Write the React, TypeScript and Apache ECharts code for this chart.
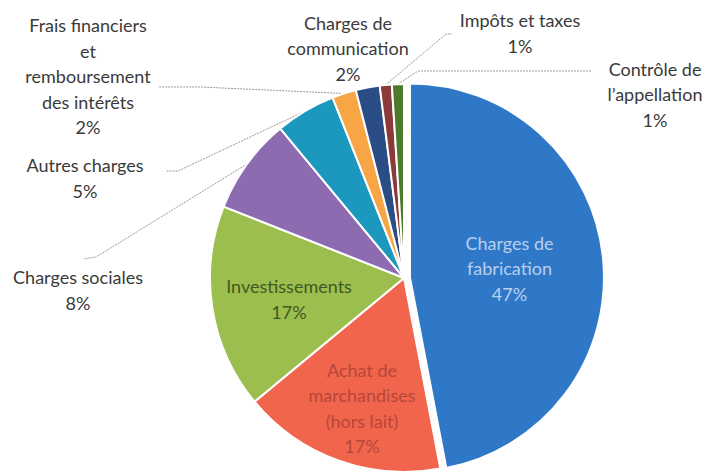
import React, { useEffect, useRef } from "react";
import * as echarts from "echarts";

const categories = [
  "Charges de\nfabrication",
  "Achat de\nmarchandises\n(hors lait)",
  "Investissements",
  "Charges sociales",
  "Autres charges",
  "Frais financiers\net\nremboursement\ndes intérêts",
  "Charges de\ncommunication",
  "Impôts et taxes",
  "Contrôle de\nl’appellation",
];
const values = [47, 17, 17, 8, 5, 2, 2, 1, 1];
const percentLabels = ["47%", "17%", "17%", "8%", "5%", "2%", "2%", "1%", "1%"];

const colors = ["#2F78C8", "#F0654C", "#9CBE4F", "#8C6BB1", "#1C98BF", "#F7A545", "#2B4D85", "#8A3A38", "#4E7A2C"];
const labelPositions = [
  [521, 266],
  [362, 408],
  [289, 299],
  [78, 290],
  [85, 178],
  [88, 76],
  [348, 48],
  [520, 33],
  [655, 94],
];
// leader line bend / end points near each outside label (null = default)
const leaderTails: (number[][] | null)[] = [
  null,
  null,
  null,
  [[96, 257], [84, 259]],
  [[178, 171], [166, 171]],
  [[200, 87], [158, 87]],
  null,
  [[446, 34], [452, 34]],
  [[418, 71], [592, 71]],
];
const insideStyles = [
  { color: "#B7CFEC" },
  { color: "#B8463A" },
  { color: "#3E5A1E" },
];

export default function App() {
  const ref = useRef<HTMLDivElement>(null);
  useEffect(() => {
    const chart = echarts.init(ref.current!, undefined, { renderer: "svg" });
    const data = categories.map((name, i) => {
      const inside = i < 3;
      return {
        name,
        value: values[i],
        selected: i === 0,
        itemStyle: { color: colors[i] },
        label: inside
          ? { position: "inside", textBorderWidth: 0, ...insideStyles[i] }
          : { position: "outside", color: "#3A3A3A" },
        labelLine: { show: !inside && i !== 6 },
      };
    });
    chart.setOption({
      animation: false,
      backgroundColor: "#ffffff",
      series: [
        {
          type: "pie",
          center: [404, 278],
          radius: 194,
          startAngle: 90,
          clockwise: true,
          selectedMode: "single",
          selectedOffset: 6,
          avoidLabelOverlap: false,
          itemStyle: { borderColor: "#ffffff", borderWidth: 2 },
          emphasis: { disabled: true },
          label: {
            fontFamily: "Lato, 'Open Sans', sans-serif",
            fontSize: 18,
            lineHeight: 25.5,
            align: "center",
            formatter: (p: any) => `${p.name}\n${percentLabels[p.dataIndex]}`,
          },
          labelLine: {
            lineStyle: { color: "#9A9A9A", width: 1, type: [2, 1] },
            length: 10,
            length2: 10,
          },
          labelLayout: (p: any) => {
            const pos = labelPositions[p.dataIndex];
            const res: any = { x: pos[0], y: pos[1], align: "center", verticalAlign: "middle" };
            const tail = leaderTails[p.dataIndex];
            if (tail && p.labelLinePoints && p.labelLinePoints.length) {
              res.labelLinePoints = [p.labelLinePoints[0], tail[0], tail[1]];
            }
            return res;
          },
          data,
        },
      ],
    });
    return () => chart.dispose();
  }, []);
  return (
    <div
      ref={ref}
      style={{ position: "fixed", left: 0, top: 0, width: 704, height: 474 }}
    />
  );
}
